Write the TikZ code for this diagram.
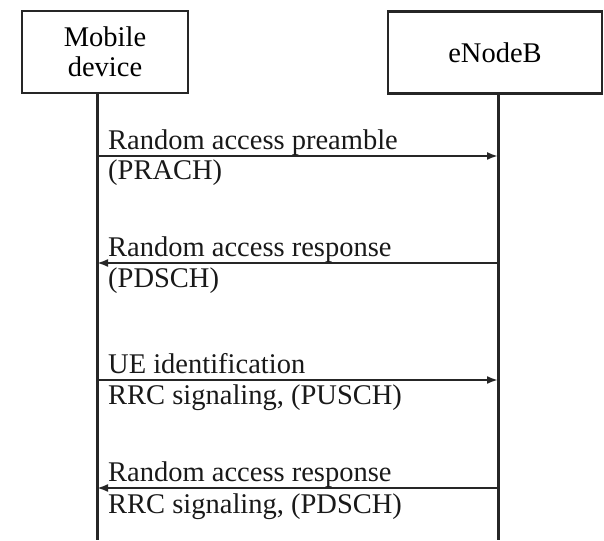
\documentclass[tikz,border=0pt]{standalone}
\usepackage{fontspec}
\setmainfont{Liberation Serif}
\usetikzlibrary{arrows.meta}
\begin{document}
\begin{tikzpicture}[x=1pt,y=1pt,
  entity/.style={draw=black!85,line width=2.8pt,fill=white,inner sep=0pt,align=center,
    font=\fontsize{28.5}{30}\selectfont},
  lifeline/.style={draw=black!85,line width=3pt},
  msg/.style={draw=black!85,line width=2pt,-{Latex[length=11pt,width=8pt]}},
  lbl/.style={anchor=base west,inner sep=0pt,font=\fontsize{28.5}{30}\selectfont,text=black!90}]
\useasboundingbox (0,0) rectangle (604,540);
% entities
\node[entity,minimum width=166pt,minimum height=82pt] (ue) at (105,488) {Mobile\\device};
\node[entity,minimum width=214pt,minimum height=82pt] (enb) at (495,487.5) {eNodeB};
% lifeline ends
\coordinate (uetop) at (97,447);
\coordinate (uebot) at (97,0);
\coordinate (enbtop) at (498,446.5);
\coordinate (enbbot) at (498,0);
\draw[lifeline] (uetop) -- (uebot);
\draw[lifeline] (enbtop) -- (enbbot);
% message points
\coordinate (a1) at (97,384);  \coordinate (b1) at (498,384);
\coordinate (a2) at (97,277);  \coordinate (b2) at (498,277);
\coordinate (a3) at (97,160);  \coordinate (b3) at (498,160);
\coordinate (a4) at (97,52);   \coordinate (b4) at (498,52);
\draw[msg] (a1) -- (b1);
\draw[msg] (b2) -- (a2);
\draw[msg] (a3) -- (b3);
\draw[msg] (b4) -- (a4);
% labels
\node[lbl] (t1a) at (108,390) {Random access preamble};
\node[lbl] (t1b) at (108,360) {(PRACH)};
\node[lbl] (t2a) at (108,283) {Random access response};
\node[lbl] (t2b) at (108,252) {(PDSCH)};
\node[lbl] (t3a) at (108,166) {UE identification};
\node[lbl] (t3b) at (108,135) {RRC signaling, (PUSCH)};
\node[lbl] (t4a) at (108,58) {Random access response};
\node[lbl] (t4b) at (108,27) {RRC signaling, (PDSCH)};
\end{tikzpicture}
\end{document}
